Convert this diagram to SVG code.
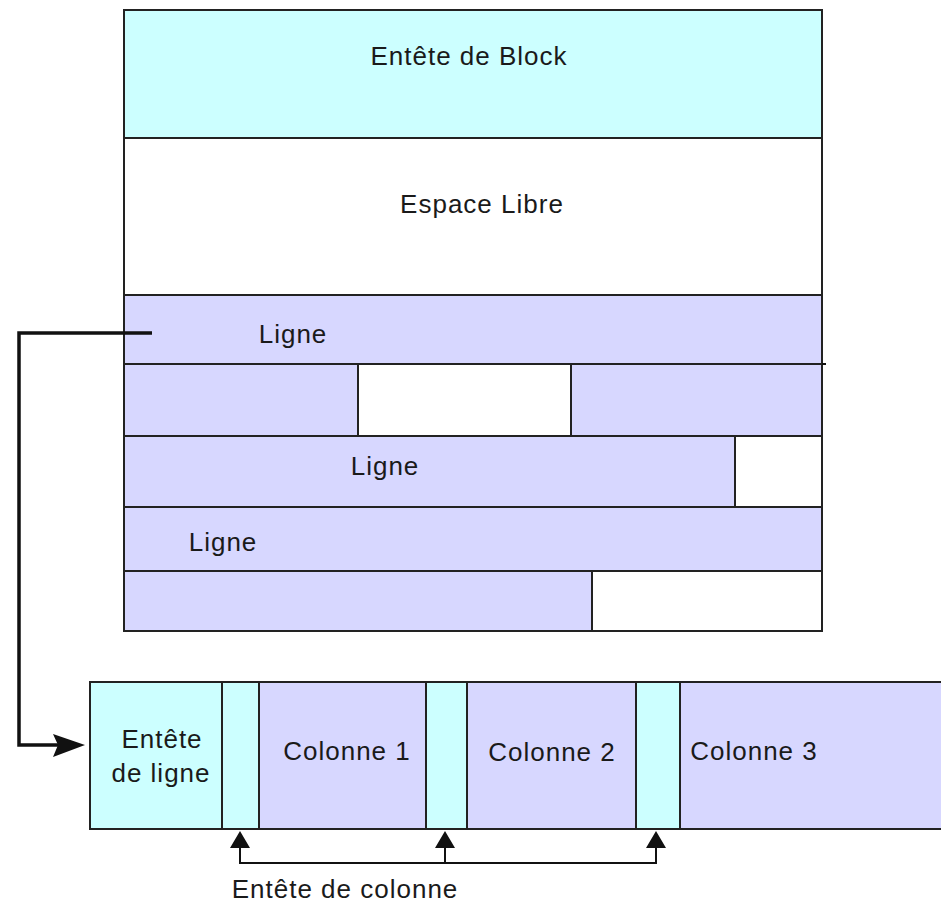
<svg xmlns="http://www.w3.org/2000/svg" width="941" height="908" viewBox="0 0 941 908">
<style>
.c{fill:#CCFFFF;stroke:#222;stroke-width:2}
.p{fill:#D7D7FF;stroke:#222;stroke-width:2}
.w{fill:#FFFFFF;stroke:#222;stroke-width:2}
text{font-family:"Liberation Sans",Arial,sans-serif;font-size:26px;fill:#1a1a1a;text-anchor:middle;letter-spacing:1px}
.ln{fill:none;stroke:#111;stroke-width:2}
.lnb{fill:none;stroke:#111;stroke-width:3.5}
</style>
<rect x="0" y="0" width="941" height="908" fill="#fff"/>
<g id="block">
<g id="entete-block"><rect class="c" x="124" y="10" width="698" height="128"/><text x="469" y="65">Entête de Block</text></g>
<g id="espace-libre"><rect class="w" x="124" y="138" width="698" height="157"/><text x="482" y="213">Espace Libre</text></g>
<g id="ligne1"><rect class="p" x="124" y="295" width="698" height="69"/><text x="293" y="343">Ligne</text></g>
<g id="ligne2"><rect class="p" x="124" y="364" width="234" height="72"/><rect class="w" x="358" y="364" width="213" height="72"/><rect class="p" x="571" y="364" width="251" height="72"/><line class="ln" x1="822" y1="364" x2="826" y2="364"/></g>
<g id="ligne3"><rect class="p" x="124" y="436" width="611" height="71"/><rect class="w" x="735" y="436" width="87" height="71"/><text x="385" y="475">Ligne</text></g>
<g id="ligne4"><rect class="p" x="124" y="507" width="698" height="64"/><text x="223" y="551">Ligne</text></g>
<g id="ligne5"><rect class="p" x="124" y="571" width="468" height="60"/><rect class="w" x="592" y="571" width="230" height="60"/></g>
</g>
<g id="row">
<g id="entete-ligne"><rect class="c" x="90" y="682" width="132" height="147"/><text x="162" y="748">Entête</text><text x="161" y="782">de ligne</text></g>
<g id="ec1"><rect class="c" x="222" y="682" width="37" height="147"/></g>
<g id="col1"><rect class="p" x="259" y="682" width="167" height="147"/><text x="347" y="760">Colonne 1</text></g>
<g id="ec2"><rect class="c" x="426" y="682" width="41" height="147"/></g>
<g id="col2"><rect class="p" x="467" y="682" width="169" height="147"/><text x="552" y="761">Colonne 2</text></g>
<g id="ec3"><rect class="c" x="636" y="682" width="44" height="147"/></g>
<g id="col3"><rect class="p" x="680" y="682" width="265" height="147"/><text x="754" y="760">Colonne 3</text></g>
</g>
<g id="connectors">
<path class="lnb" d="M152,333 L19,333 L19,745 L58,745"/>
<path d="M85,745 L53,734 L58,745 L53,757 Z" fill="#111"/>
<path class="ln" d="M240,848 L240,863 L656,863 L656,848 M445,863 L445,848"/>
<path d="M240,831 L250,848 L230,848 Z M445,831 L455,848 L435,848 Z M656,831 L666,848 L646,848 Z" fill="#111"/>
</g>
<g id="label-entete-colonne"><text x="345" y="898">Entête de colonne</text></g>
</svg>
